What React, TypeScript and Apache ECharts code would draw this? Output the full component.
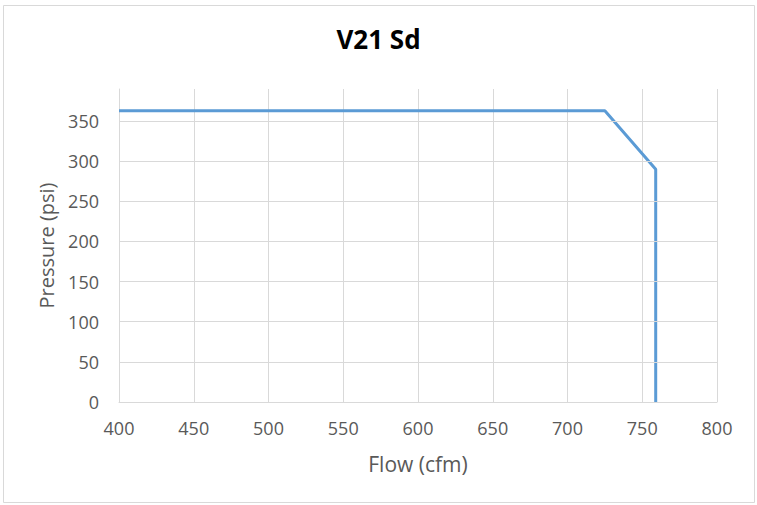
import React, { useEffect, useRef } from "react";
import * as echarts from "echarts";

const chartTitle = "V21 Sd";
const xName = "Flow (cfm)";
const yName = "Pressure (psi)";
const flow = [400, 725, 759, 759];
const pressure = [363, 363, 290, 0];
const yGridValues = [0, 50, 100, 150, 200, 250, 300, 350];

const TEXT = "#595959";
const GRID = "#d9d9d9";
const FONT = "'Open Sans', sans-serif";

export default function App() {
  const ref = useRef<HTMLDivElement>(null);
  useEffect(() => {
    if (!ref.current) return;
    const chart = echarts.init(ref.current, null, { renderer: "svg" });
    chart.setOption({
      animation: false,
      backgroundColor: "#ffffff",
      graphic: [
        {
          type: "rect",
          z: -10,
          shape: { x: 3.5, y: 5.5, width: 751, height: 497 },
          style: { fill: "#ffffff", stroke: GRID, lineWidth: 1 },
          silent: true,
        },
      ],
      title: {
        text: chartTitle,
        left: "center",
        top: 26,
        padding: 0,
        textStyle: { fontFamily: FONT, fontWeight: "bold", fontSize: 26, color: "#000000" },
      },
      grid: { left: 119, right: 40, top: 89, bottom: 103, containLabel: false },
      xAxis: {
        type: "value",
        min: 400,
        max: 800,
        interval: 50,
        name: xName,
        nameLocation: "middle",
        nameGap: 51,
        nameTextStyle: { fontFamily: FONT, fontSize: 21, color: TEXT },
        axisLine: { show: true, lineStyle: { color: GRID, width: 1 } },
        axisTick: { show: false },
        axisLabel: { fontFamily: FONT, fontSize: 18, color: TEXT, margin: 17 },
        splitLine: { show: true, lineStyle: { color: GRID, width: 1 } },
      },
      yAxis: {
        type: "value",
        min: 0,
        max: 390,
        interval: 50,
        name: yName,
        nameLocation: "middle",
        nameGap: 63,
        nameRotate: 90,
        nameTextStyle: { fontFamily: FONT, fontSize: 20, color: TEXT },
        axisLine: { show: true, lineStyle: { color: GRID, width: 1 } },
        axisTick: { show: false },
        axisLabel: {
          fontFamily: FONT,
          fontSize: 18,
          color: TEXT,
          margin: 20,
          formatter: (v: number) => (v % 50 === 0 ? String(v) : ""),
        },
        splitLine: { show: false },
      },
      series: [
        {
          type: "line",
          z: 1,
          data: [],
          silent: true,
          markLine: {
            silent: true,
            symbol: "none",
            label: { show: false },
            lineStyle: { color: GRID, width: 1, type: "solid" },
            data: yGridValues.filter((v) => v > 0).map((v) => ({ yAxis: v })),
          },
        },
        {
          type: "line",
          z: 3,
          data: flow.map((f, i) => [f, pressure[i]]),
          showSymbol: false,
          symbol: "none",
          lineStyle: { color: "#5B9BD5", width: 3 },
          itemStyle: { color: "#5B9BD5" },
        },
      ],
    });
    return () => chart.dispose();
  }, []);
  return (
    <div
      ref={ref}
      style={{ position: "fixed", left: 0, top: 0, width: 757, height: 505 }}
    />
  );
}
